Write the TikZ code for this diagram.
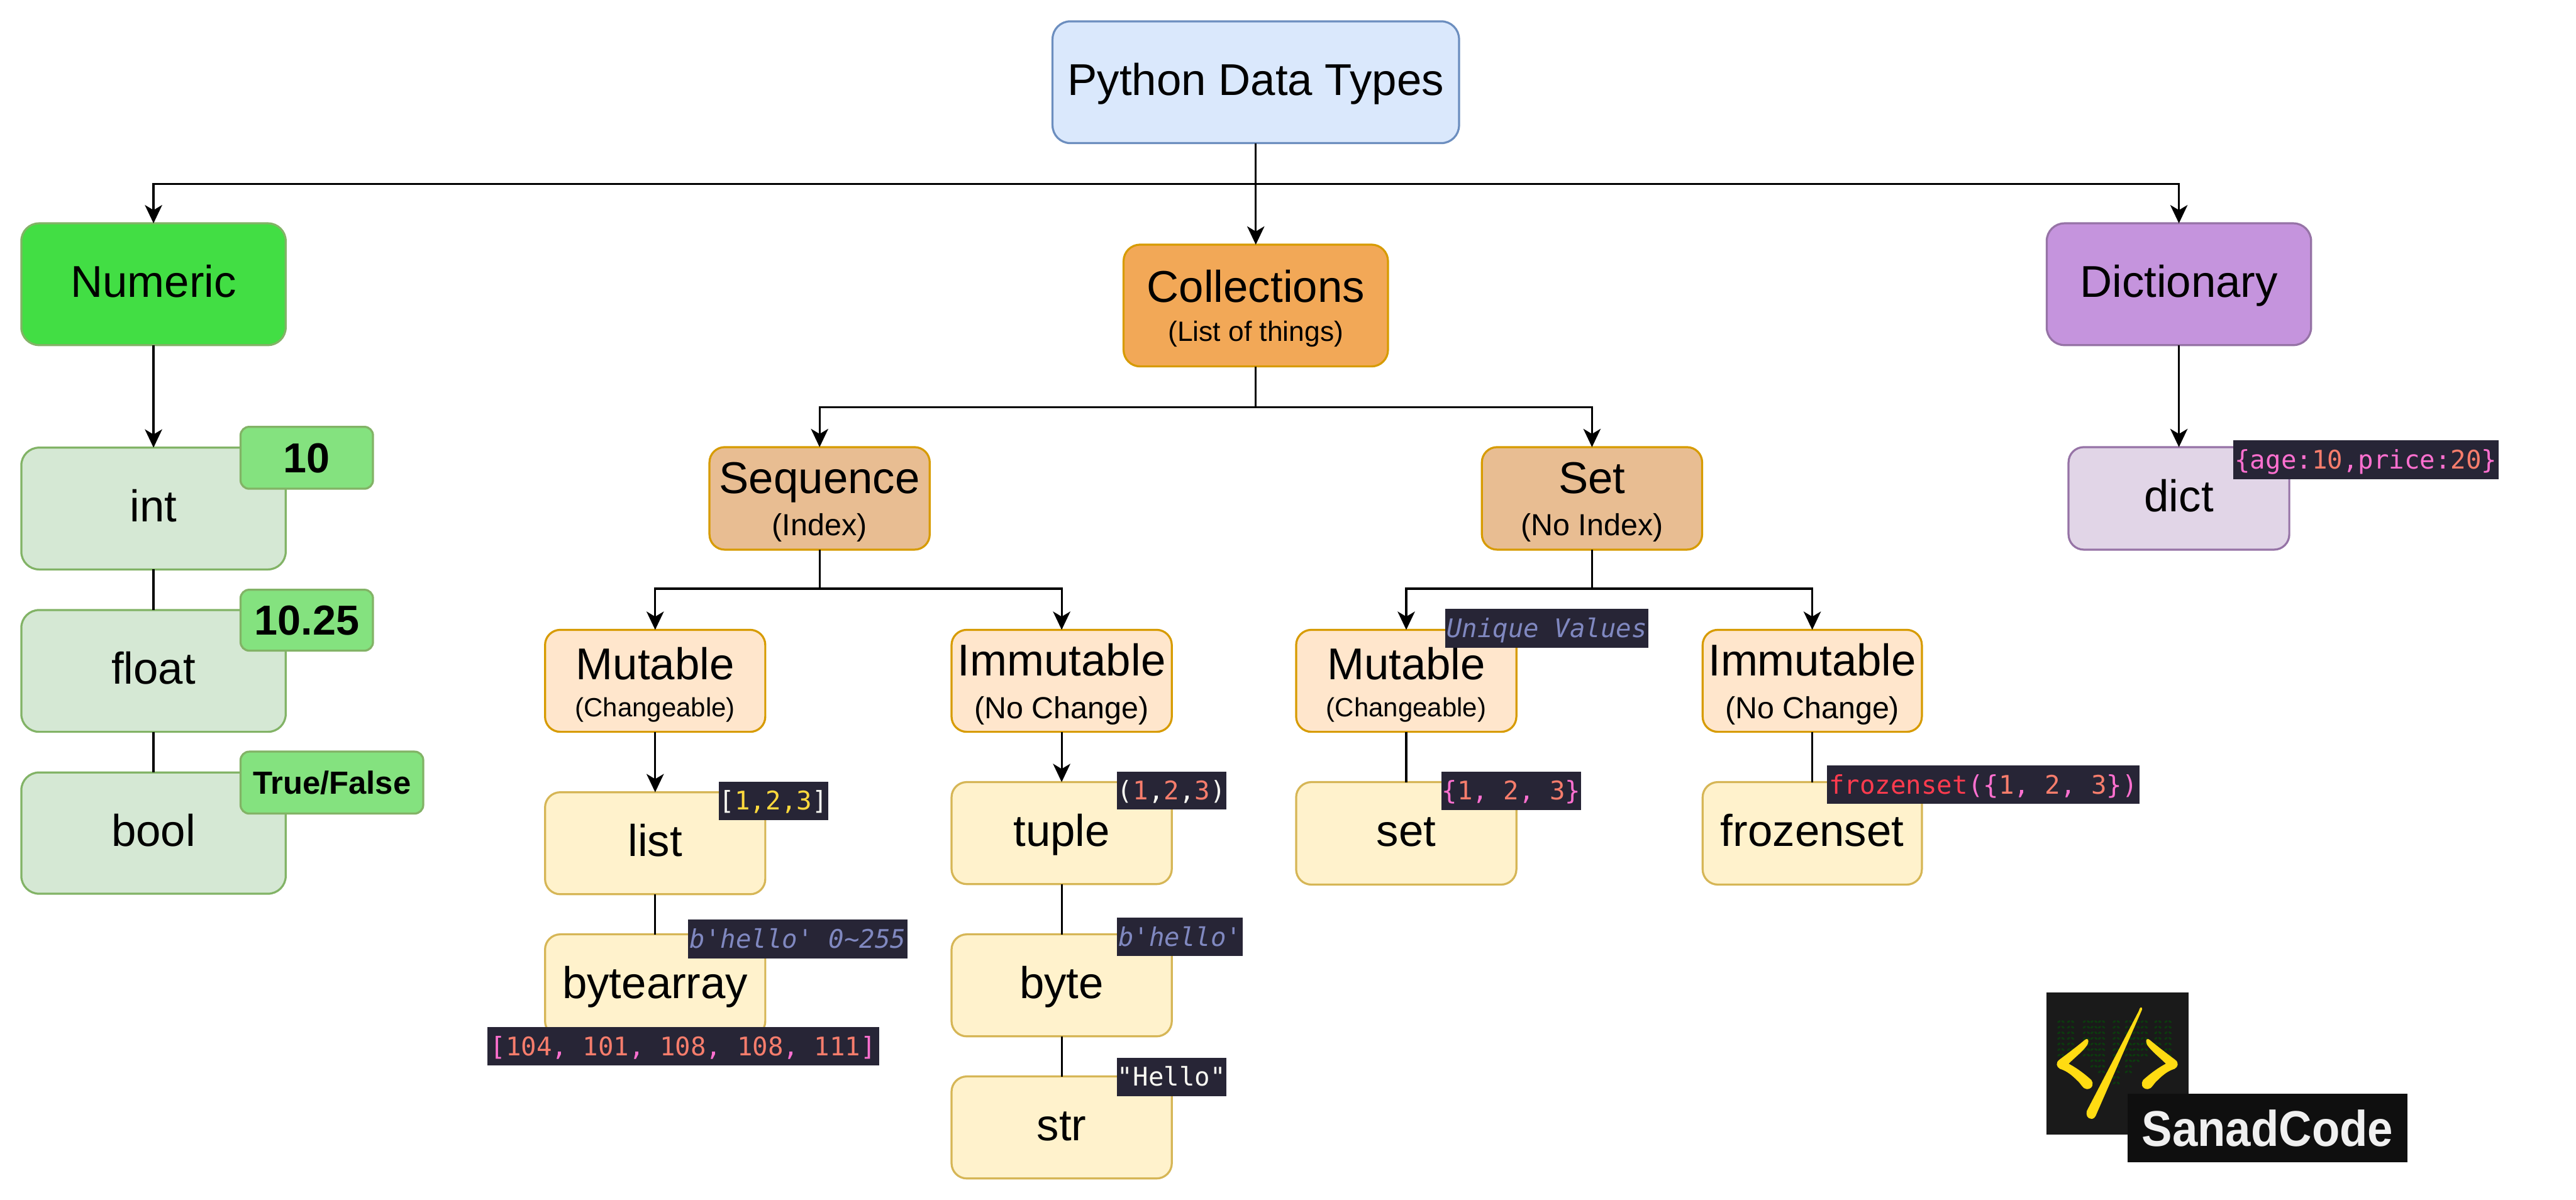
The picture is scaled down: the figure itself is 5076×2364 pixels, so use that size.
\documentclass[tikz,border=0pt]{standalone}
\usepackage{fontspec}
\setmainfont{Liberation Sans}
\setmonofont{DejaVu Sans Mono}
\usetikzlibrary{arrows.meta,calc}
\newdimen\pxu \pxu=0.2pt
\definecolor{tagbg}{HTML}{272536}
\definecolor{cpink}{HTML}{FF70D0}
\definecolor{csalm}{HTML}{F77D6C}
\definecolor{cyell}{HTML}{FFD93D}
\definecolor{ccomm}{HTML}{8088C0}
\definecolor{cred}{HTML}{FF3B4E}
\definecolor{cwhite}{HTML}{F8F8F2}
\newcommand{\cP}[1]{\textcolor{cpink}{#1}}
\newcommand{\cS}[1]{\textcolor{csalm}{#1}}
\newcommand{\cY}[1]{\textcolor{cyell}{#1}}
\newcommand{\cC}[1]{\textcolor{ccomm}{\itshape #1}}
\newcommand{\cR}[1]{\textcolor{cred}{#1}}
\newcommand{\cW}[1]{\textcolor{cwhite}{#1}}
% zero-size label: baseline #1 px under the centre of its node
\newcommand{\lbl}[2]{\makebox[0pt]{\raisebox{-#1\pxu}[0pt][0pt]{#2}}}
\newcommand{\tfont}{\fontsize{17.55}{20}\selectfont}
\newcommand{\one}[1]{\lbl{26}{\tfont #1}}
\newcommand{\two}[5]{\lbl{#1}{\tfont #2}\lbl{#3}{\fontsize{#4}{14}\selectfont #5}}
\newcommand{\tg}[1]{\lbl{18}{\fontsize{10.1}{12}\selectfont\ttfamily #1}}
\newcommand{\bx}[7]{%
  \pgfmathsetmacro\bxw{#5-#3}\pgfmathsetmacro\bxh{#6-#4}%
  \pgfmathsetmacro\bxx{(#3+#5)/2}\pgfmathsetmacro\bxy{(#4+#6)/2}%
  \node[#2,minimum width=\bxw*0.2pt,minimum height=\bxh*0.2pt] (#1) at (\bxx,\bxy) {#7};}
\tikzset{
  box/.style={draw,rectangle,line width=0.8pt,inner sep=0pt,outer sep=0pt,rounded corners=6pt},
  bigbox/.style={box,rounded corners=7pt},
  rootbox/.style={bigbox,fill=cFillRoot,draw=cLineRoot},
  grn/.style={bigbox,fill=cFillGrn,draw=cLineGrn},
  numbox/.style={bigbox,fill=cFillNum,draw=cLineGrn},
  colbox/.style={box,rounded corners=6.5pt,fill=cFillCol,draw=cLineOr},
  midbox/.style={box,fill=cFillMid,draw=cLineOr},
  pchbox/.style={box,fill=cFillPch,draw=cLineOr},
  yelbox/.style={box,fill=cFillYel,draw=cLineYel},
  dictbox/.style={bigbox,fill=cFillDic,draw=cLinePur},
  dbox/.style={box,fill=cFillD,draw=cLinePur},
  badge/.style={box,rounded corners=3.4pt,fill=cFillBadge,draw=cLineGrn},
  codetag/.style={rectangle,fill=tagbg,inner sep=0pt,outer sep=0pt},
  wire/.style={line width=0.8pt,black},
  arr/.style={wire,-{Stealth[length=7.2pt,width=6.8pt,inset=2pt]}},
  rain/.style={fill=cRain}
}
\definecolor{cFillRoot}{HTML}{DAE8FC}\definecolor{cLineRoot}{HTML}{6C8EBF}
\definecolor{cFillGrn}{HTML}{D5E8D4}\definecolor{cLineGrn}{HTML}{82B366}
\definecolor{cFillNum}{HTML}{42DE44}\definecolor{cFillBadge}{HTML}{84E27F}
\definecolor{cFillCol}{HTML}{F2A857}\definecolor{cLineOr}{HTML}{D79B00}
\definecolor{cFillMid}{HTML}{E8BD92}\definecolor{cFillPch}{HTML}{FFE6CC}
\definecolor{cFillYel}{HTML}{FFF2CC}\definecolor{cLineYel}{HTML}{D6B656}
\definecolor{cFillDic}{HTML}{C594DD}\definecolor{cLinePur}{HTML}{9673A6}
\definecolor{cFillD}{HTML}{E1D5E7}
\definecolor{cRain}{HTML}{0C3A0E}
\definecolor{cLogoA}{HTML}{1A1A1A}\definecolor{cLogoB}{HTML}{0F0F0F}
\definecolor{cLogoY}{HTML}{FFDB12}\definecolor{cLogoT}{HTML}{F0F0F0}
\begin{document}
\begin{tikzpicture}[x=0.2pt,y=-0.2pt]
\fill[white] (0,0) rectangle (5076,2364);
\useasboundingbox (0,0) rectangle (5076,2364);
% main boxes
\bx{root}{rootbox}{2074}{42}{2875}{282}{\one{Python Data Types}}
\bx{numeric}{numbox}{42}{440}{563}{680}{\one{Numeric}}
\bx{coll}{colbox}{2214}{482}{2735}{722}{\two{-6}{Collections}{70}{11}{(List of things)}}
\bx{dicty}{dictbox}{4033}{440}{4554}{680}{\one{Dictionary}}
\bx{int}{grn}{42}{882}{563}{1122}{\one{int}}
\bx{float}{grn}{42}{1202}{563}{1442}{\one{float}}
\bx{bool}{grn}{42}{1522}{563}{1761}{\one{bool}}
\bx{seq}{midbox}{1398}{881}{1832}{1083}{\two{-10}{Sequence}{73}{12}{(Index)}}
\bx{setg}{midbox}{2920}{881}{3354}{1083}{\two{-10}{Set}{73}{12}{(No Index)}}
\bx{dict}{dbox}{4076}{881}{4511}{1083}{\one{dict}}
\bx{smut}{pchbox}{1074}{1241}{1508}{1442}{\two{-2}{Mutable}{70}{10.4}{(Changeable)}}
\bx{simm}{pchbox}{1875}{1241}{2309}{1442}{\two{-10}{Immutable}{74}{12}{(No Change)}}
\bx{tmut}{pchbox}{2554}{1241}{2988}{1442}{\two{-2}{Mutable}{70}{10.4}{(Changeable)}}
\bx{timm}{pchbox}{3355}{1241}{3787}{1442}{\two{-10}{Immutable}{74}{12}{(No Change)}}
\bx{list}{yelbox}{1074}{1561}{1508}{1762}{\one{list}}
\bx{bytearr}{yelbox}{1074}{1841}{1508}{2042}{\one{bytearray}}
\bx{tuple}{yelbox}{1875}{1541}{2309}{1742}{\one{tuple}}
\bx{byte}{yelbox}{1875}{1841}{2309}{2042}{\one{byte}}
\bx{str}{yelbox}{1875}{2121}{2309}{2322}{\one{str}}
\bx{set}{yelbox}{2554}{1541}{2988}{1743}{\one{set}}
\bx{frozen}{yelbox}{3355}{1541}{3787}{1743}{\one{frozenset}}
% connectors
\coordinate (busA) at ($(root.south)+(0,80)$);
\coordinate (busB) at ($(coll.south)+(0,80)$);
\coordinate (busC) at ($(seq.south)+(0,77)$);
\coordinate (busD) at ($(setg.south)+(0,77)$);
\draw[wire] (root.south) -- (busA);
\draw[arr] (busA) -| (numeric.north);
\draw[arr] (busA) -| (dicty.north);
\draw[arr] (busA) -- (coll.north);
\draw[wire] (coll.south) -- (busB);
\draw[arr] (busB) -| (seq.north);
\draw[arr] (busB) -| (setg.north);
\draw[wire] (seq.south) -- (busC);
\draw[arr] (busC) -| (smut.north);
\draw[arr] (busC) -| (simm.north);
\draw[wire] (setg.south) -- (busD);
\draw[arr] (busD) -| (tmut.north);
\draw[arr] (busD) -| (timm.north);
\draw[arr] (numeric.south) -- (int.north);
\draw[wire] (int.south) -- (float.north);
\draw[wire] (float.south) -- (bool.north);
\draw[arr] (dicty.south) -- (dict.north);
\draw[arr] (smut.south) -- (list.north);
\draw[wire] (list.south) -- (bytearr.north);
\draw[arr] (simm.south) -- (tuple.north);
\draw[wire] (tuple.south) -- (byte.north);
\draw[wire] (byte.south) -- (str.north);
\draw[wire] (tmut.south) -- (set.north);
\draw[wire] (timm.south) -- (frozen.north);
% badges
\bx{b10}{badge}{474}{841}{735}{963}{\lbl{29}{\fontsize{16.5}{18}\selectfont\bfseries 10}}
\bx{b1025}{badge}{474}{1162}{735}{1282}{\lbl{29}{\fontsize{16.5}{18}\selectfont\bfseries 10.25}}
\bx{btf}{badge}{474}{1481}{834}{1603}{\lbl{22}{\fontsize{12.6}{14}\selectfont\bfseries True/False}}
% code tags
\bx{tlist}{codetag}{1416}{1540}{1632}{1616}{\tg{\cW{[}\cY{1,2,3}\cW{]}}}
\bx{tba}{codetag}{1356}{1812}{1788}{1888}{\tg{\cC{b'hello' 0\textasciitilde 255}}}
\bx{tbb}{codetag}{960}{2024}{1732}{2099}{\tg{\cP{[}\cS{104}\cP{,} \cS{101}\cP{,} \cS{108}\cP{,} \cS{108}\cP{,} \cS{111}\cP{]}}}
\bx{ttuple}{codetag}{2201}{1520}{2416}{1595}{\tg{\cW{(}\cS{1}\cW{,}\cS{2}\cW{,}\cS{3}\cW{)}}}
\bx{tbyte}{codetag}{2201}{1808}{2449}{1884}{\tg{\cC{b'hello'}}}
\bx{tstr}{codetag}{2201}{2084}{2416}{2160}{\tg{\cW{"Hello"}}}
\bx{tuniq}{codetag}{2848}{1200}{3248}{1276}{\tg{\cC{Unique Values}}}
\bx{tset}{codetag}{2840}{1520}{3116}{1596}{\tg{\cP{\{}\cS{1}\cP{,} \cS{2}\cP{,} \cS{3}\cP{\}}}}
\bx{tfro}{codetag}{3600}{1508}{4216}{1584}{\tg{\cR{frozenset}\cP{(\{}\cS{1}\cP{,} \cS{2}\cP{,} \cS{3}\cP{\})}}}
\bx{tdict}{codetag}{4400}{868}{4924}{944}{\tg{\cP{\{age:}\cS{10}\cP{,price:}\cS{20}\cP{\}}}}
% logo
\fill[cLogoA] (4032,1956) rectangle (4312,2235);
\foreach \cc/\bb in {4061/2083,4080/2069,4111/2086,4126/2106,4141/2116,4170/2139,4194/2116,4209/2096,4225/2086,4252/2063,4272/2079}{
  \foreach \yy in {2013,2024,...,\bb}{
    \fill[rain,rotate around={35:(\cc-4,\yy)}] (\cc-4,\yy) ellipse [x radius=3.5,y radius=2];
    \fill[rain,rotate around={-35:(\cc+4,\yy)}] (\cc+4,\yy) ellipse [x radius=3.5,y radius=2];
  }
}
% slash
\fill[cLogoY] (4218,1985) .. controls (4220,1984) and (4221.5,1986) .. (4221,1989)
  -- (4131.6,2193.8) .. controls (4128,2204) and (4124,2204.5) .. (4120.7,2204.5)
  .. controls (4113,2204) and (4110,2197) .. (4112,2189) -- (4214.5,1992) .. controls (4215.5,1988) and (4216.5,1986) .. (4218,1985) -- cycle;
% left chevron
\fill[cLogoY] (4113.7,2047.7) .. controls (4116,2050) and (4115,2054) .. (4113,2059)
  .. controls (4103,2073) and (4090,2082) .. (4076.3,2095.9)
  .. controls (4095,2106) and (4110,2118) .. (4121,2128)
  .. controls (4126,2134) and (4124,2146) .. (4112,2146)
  .. controls (4104,2146) and (4100,2134) .. (4092,2128)
  .. controls (4082,2118) and (4072,2110) .. (4059,2106)
  .. controls (4052,2102) and (4050,2094) .. (4058,2088)
  .. controls (4078,2073) and (4095,2060) .. (4108,2049)
  .. controls (4110,2047) and (4112,2047) .. (4113.7,2047.7) -- cycle;
% right chevron
\fill[cLogoY] (4230.3,2047.7) .. controls (4228,2050) and (4229,2054) .. (4231,2059)
  .. controls (4241,2073) and (4254,2082) .. (4267.7,2095.9)
  .. controls (4249,2106) and (4234,2118) .. (4223,2128)
  .. controls (4218,2134) and (4220,2146) .. (4232,2146)
  .. controls (4240,2146) and (4244,2134) .. (4252,2128)
  .. controls (4262,2118) and (4272,2110) .. (4285,2106)
  .. controls (4292,2102) and (4294,2094) .. (4286,2088)
  .. controls (4266,2073) and (4249,2060) .. (4236,2049)
  .. controls (4234,2047) and (4232,2047) .. (4230.3,2047.7) -- cycle;
\bx{brand}{rectangle,fill=cLogoB,inner sep=0pt,outer sep=0pt}{4192}{2155}{4744}{2290}{\lbl{36}{\textcolor{cLogoT}{\scalebox{1}[1.1]{\fontsize{18}{20}\selectfont\bfseries SanadCode}}}}
\end{tikzpicture}
\end{document}
